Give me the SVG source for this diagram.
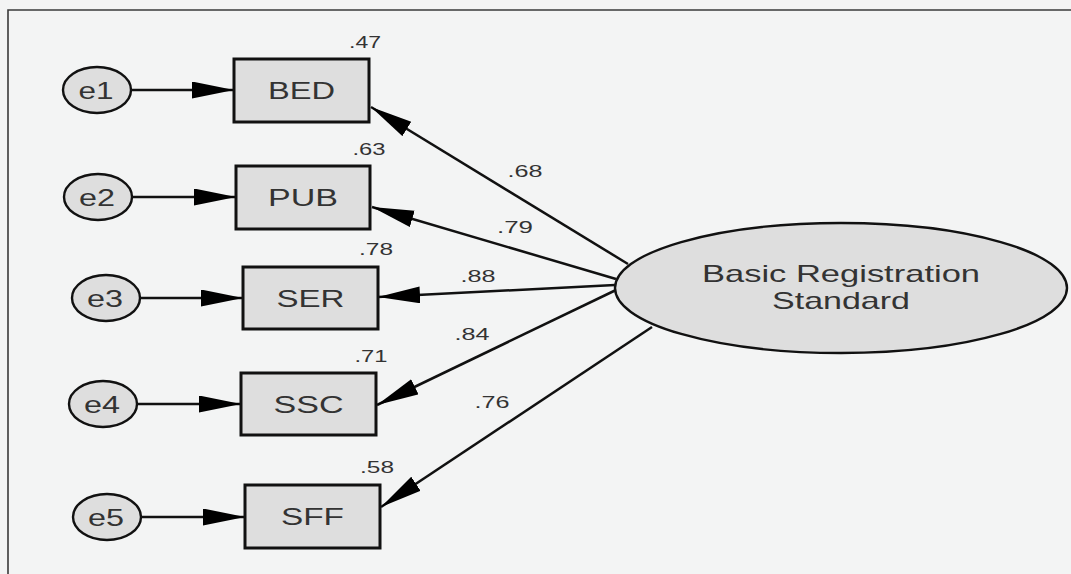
<svg xmlns="http://www.w3.org/2000/svg" width="1071" height="574" viewBox="0 0 1071 574">
<style>
.bg{fill:#f3f4f4}
.frame{fill:none;stroke:#3a3a3a;stroke-width:1.6}
.box{fill:#dedede;stroke:#111;stroke-width:3}
.err{fill:#dedede;stroke:#111;stroke-width:2.4}
.lat{fill:#dedede;stroke:#111;stroke-width:2.4}
.lbl{font-family:"Liberation Sans",Arial,sans-serif;font-size:23px;fill:#333;text-anchor:middle}
.num{font-family:"Liberation Sans",Arial,sans-serif;font-size:16.5px;fill:#333;text-anchor:middle}
.big{font-family:"Liberation Sans",Arial,sans-serif;font-size:24px;fill:#333;text-anchor:middle}
.con{stroke:#111;stroke-width:2.5;fill:none;marker-end:url(#ah)}
</style>
<defs>
<marker id="ah" markerUnits="userSpaceOnUse" markerWidth="44" markerHeight="20" refX="42" refY="8.5" orient="auto">
<path d="M0,0 L42,8.5 L0,17 z" fill="#000"/>
</marker>
</defs>
<rect class="bg" x="0" y="0" width="1071" height="574"/>
<path class="frame" d="M8,574 L8,10 L1071,10"/>

<g id="connectors">
<line class="con" x1="131" y1="90" x2="234" y2="90"/>
<line class="con" x1="132" y1="197" x2="236" y2="197"/>
<line class="con" x1="140" y1="298" x2="243" y2="298"/>
<line class="con" x1="137" y1="404" x2="241" y2="404"/>
<line class="con" x1="141" y1="517" x2="245" y2="517"/>
<line class="con" x1="628" y1="264" x2="371" y2="107"/>
<line class="con" x1="616" y1="279" x2="372" y2="207"/>
<line class="con" x1="615" y1="285" x2="378" y2="297"/>
<line class="con" x1="616" y1="290" x2="377" y2="405"/>
<line class="con" x1="652" y1="327" x2="381" y2="507"/>
</g>

<g id="e1"><ellipse class="err" cx="97" cy="90" rx="34" ry="23"/><text class="lbl" x="96" y="99" textLength="35" lengthAdjust="spacingAndGlyphs">e1</text></g>
<g id="e2"><ellipse class="err" cx="98" cy="197" rx="34" ry="23"/><text class="lbl" x="97" y="206" textLength="36" lengthAdjust="spacingAndGlyphs">e2</text></g>
<g id="e3"><ellipse class="err" cx="106" cy="298" rx="34" ry="23"/><text class="lbl" x="105" y="307" textLength="36" lengthAdjust="spacingAndGlyphs">e3</text></g>
<g id="e4"><ellipse class="err" cx="103" cy="404" rx="34" ry="23"/><text class="lbl" x="102" y="413" textLength="36" lengthAdjust="spacingAndGlyphs">e4</text></g>
<g id="e5"><ellipse class="err" cx="107" cy="517" rx="34" ry="23"/><text class="lbl" x="106" y="526" textLength="36" lengthAdjust="spacingAndGlyphs">e5</text></g>

<g id="BED"><rect class="box" x="234" y="59" width="135" height="63"/><text class="lbl" x="301.5" y="99" textLength="67" lengthAdjust="spacingAndGlyphs">BED</text><text class="num" x="365" y="48" textLength="32" lengthAdjust="spacingAndGlyphs">.47</text></g>
<g id="PUB"><rect class="box" x="236" y="166" width="134" height="63"/><text class="lbl" x="303" y="206" textLength="70" lengthAdjust="spacingAndGlyphs">PUB</text><text class="num" x="369" y="155" textLength="33" lengthAdjust="spacingAndGlyphs">.63</text></g>
<g id="SER"><rect class="box" x="243" y="267" width="135" height="62"/><text class="lbl" x="310.5" y="307" textLength="68" lengthAdjust="spacingAndGlyphs">SER</text><text class="num" x="376" y="255" textLength="34" lengthAdjust="spacingAndGlyphs">.78</text></g>
<g id="SSC"><rect class="box" x="241" y="373" width="135" height="62"/><text class="lbl" x="308.5" y="413" textLength="70" lengthAdjust="spacingAndGlyphs">SSC</text><text class="num" x="371" y="362" textLength="33" lengthAdjust="spacingAndGlyphs">.71</text></g>
<g id="SFF"><rect class="box" x="245" y="485" width="135" height="63"/><text class="lbl" x="312.5" y="525" textLength="63" lengthAdjust="spacingAndGlyphs">SFF</text><text class="num" x="377" y="473" textLength="34" lengthAdjust="spacingAndGlyphs">.58</text></g>

<g id="BRS"><ellipse class="lat" cx="841" cy="288" rx="226" ry="65"/><text class="big" x="841" y="282" textLength="278" lengthAdjust="spacingAndGlyphs">Basic Registration</text><text class="big" x="841" y="309" textLength="138" lengthAdjust="spacingAndGlyphs">Standard</text></g>

<g id="loadings">
<text class="num" x="525" y="177" textLength="35" lengthAdjust="spacingAndGlyphs">.68</text>
<text class="num" x="515" y="233" textLength="36" lengthAdjust="spacingAndGlyphs">.79</text>
<text class="num" x="478" y="282" textLength="35" lengthAdjust="spacingAndGlyphs">.88</text>
<text class="num" x="472" y="340" textLength="35" lengthAdjust="spacingAndGlyphs">.84</text>
<text class="num" x="492" y="408" textLength="35" lengthAdjust="spacingAndGlyphs">.76</text>
</g>
</svg>
